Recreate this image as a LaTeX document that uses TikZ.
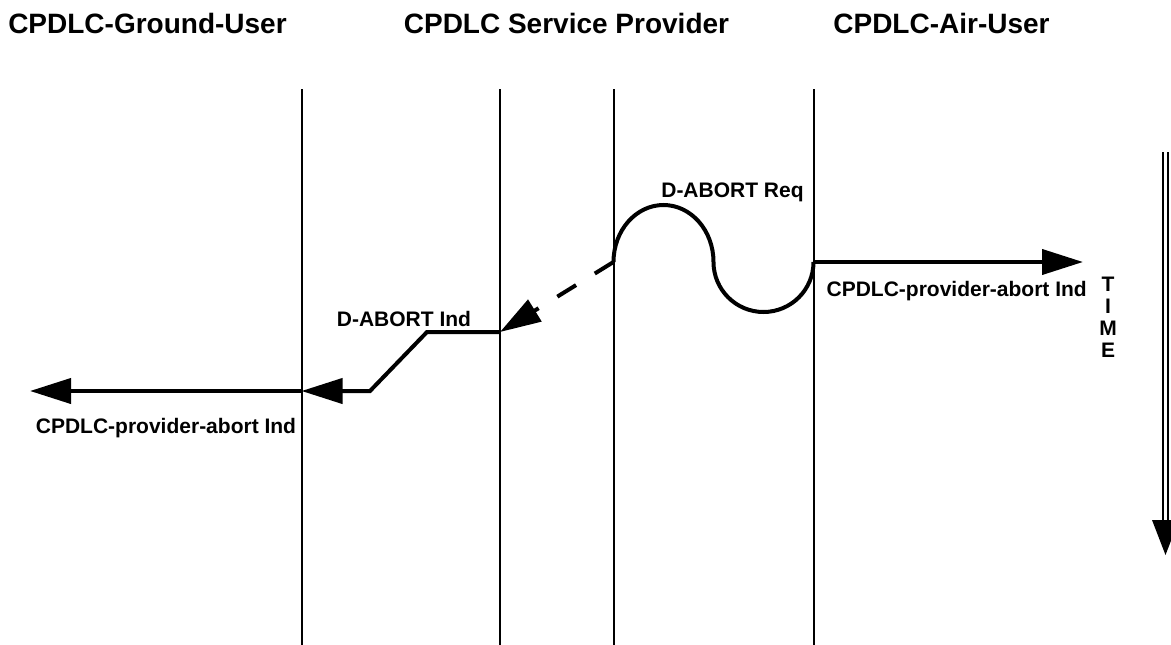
\documentclass[tikz,border=0pt]{standalone}
\usepackage{fontspec}
\setmainfont{Liberation Sans}
\usetikzlibrary{arrows.meta}

\newcommand{\partyfont}{\fontsize{28}{32}\selectfont\bfseries}
\newcommand{\lblfont}{\fontsize{21}{25}\selectfont\bfseries}

\tikzset{
  lifeline/.style={line width=2pt},
  msg/.style={line width=4pt,-{Triangle[length=41pt,width=25pt]}},
  reqwave/.style={line width=4pt},
  lbl/.style={font=\lblfont,inner sep=0pt,anchor=base},
  party/.style={font=\partyfont,inner sep=0pt,anchor=base},
}

\begin{document}
\begin{tikzpicture}[x=1pt,y=-1pt]
  \useasboundingbox (0,0) rectangle (1171,645);
  \clip (0,0) rectangle (1171,645);
  % party names
  \node[party] (ground) at (147.5,33) {CPDLC-Ground-User};
  \node[party] (provider) at (566.5,33) {CPDLC Service Provider};
  \node[party] (air) at (941.5,33) {CPDLC-Air-User};
  % lifelines
  \foreach \n/\x in {g/301.5,pl/500,pr/613.5,a/813.5}{
    \coordinate (\n-top) at (\x,89);
    \coordinate (\n-bot) at (\x,645);
    \draw[lifeline] (\n-top) -- (\n-bot);
  }
  % message points
  \coordinate (req) at (613.5,262);
  \coordinate (air-ind) at (1083,262);
  \coordinate (ind) at (500,332);
  \coordinate (ind-bend) at (427,332);
  \coordinate (ind-low) at (370,391);
  \coordinate (gnd) at (301.5,391);
  \coordinate (gnd-ind) at (30,391);
  % abort request, up and down through the provider
  \draw[reqwave] (req)
    arc[start angle=180,end angle=360,x radius=50,y radius=57]
    arc[start angle=180,end angle=0,x radius=50,y radius=50] coordinate (air-start);
  \draw[msg] (air-start) -- (air-ind);
  \draw[msg,dash pattern=on 22pt off 22pt] (req) -- (ind);
  \draw[msg] (ind) -- (ind-bend) -- (ind-low) -- (gnd);
  \draw[msg] (gnd) -- (gnd-ind);
  % labels
  \node[lbl] (req-lbl) at (732.5,197) {D-ABORT Req};
  \node[lbl] (ind-lbl) at (404,326) {D-ABORT Ind};
  \node[lbl] (gnd-lbl) at (166,433) {CPDLC-provider-abort Ind};
  \node[lbl] (air-lbl) at (956.7,296) {CPDLC-provider-abort Ind};
  % time axis
  \foreach \ch [count=\i] in {T,I,M,E}
    \node[lbl] (time-\i) at (1108,{291+22*(\i-1)}) {\ch};
  \coordinate (time-top) at (1165.5,152);
  \coordinate (time-head) at (1165.5,520);
  \coordinate (time-tip) at (1165.5,555);
  \draw[line width=2.5pt,double,double distance=2.5pt] (time-top) -- (time-head);
  \fill (time-head) ++(-13.5,0) -- ++(27,0) -- (time-tip) -- cycle;
\end{tikzpicture}
\end{document}
